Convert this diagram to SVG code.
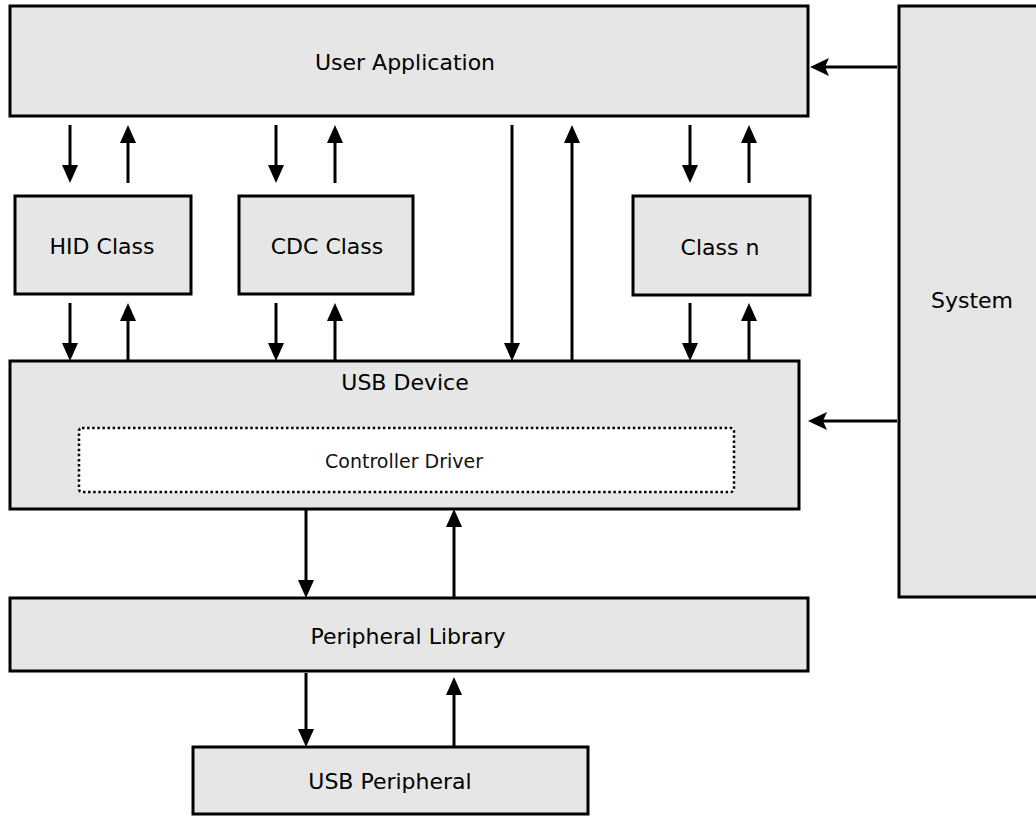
<svg xmlns="http://www.w3.org/2000/svg" width="1036" height="817" viewBox="0 0 1036 817">
<style>
.box{fill:#e6e6e6;stroke:#000;stroke-width:3}
.lbl{font-family:"DejaVu Sans",Verdana,sans-serif;font-size:22px;fill:#000;text-anchor:middle}
.sub{font-family:"DejaVu Sans",Verdana,sans-serif;font-size:19px;fill:#111;text-anchor:middle}
.dot{fill:#fff;stroke:#000;stroke-width:2.5;stroke-dasharray:2.5 2.6}
.ln{fill:none;stroke:#000;stroke-width:3}
.v{marker-end:url(#ah)}
.h{marker-end:url(#ahn)}
</style>
<defs>
<marker id="ah" markerUnits="userSpaceOnUse" markerWidth="20" markerHeight="20" refX="4" refY="8" orient="auto">
<path d="M0,0 L18,8 L0,16 z" fill="#000"/>
</marker>
<marker id="ahn" markerUnits="userSpaceOnUse" markerWidth="22" markerHeight="22" refX="5" refY="9" orient="auto">
<path d="M0,0 L19,9 L0,18 L4,9 z" fill="#000"/>
</marker>
</defs>
<rect width="1036" height="817" fill="#fff"/>
<g id="system"><rect class="box" x="899" y="6" width="160" height="591"/><text class="lbl" x="972" y="308">System</text></g>
<g id="user-application"><rect class="box" x="10" y="6" width="798" height="110"/><text class="lbl" x="405" y="70">User Application</text></g>
<g id="hid-class"><rect class="box" x="15" y="196" width="176" height="98"/><text class="lbl" x="102" y="254">HID Class</text></g>
<g id="cdc-class"><rect class="box" x="239" y="196" width="174" height="98"/><text class="lbl" x="327" y="254">CDC Class</text></g>
<g id="class-n"><rect class="box" x="633" y="196" width="177" height="99"/><text class="lbl" x="720" y="255">Class n</text></g>
<g id="usb-device"><rect class="box" x="10" y="361" width="789" height="148"/><text class="lbl" x="405" y="390">USB Device</text>
<g id="controller-driver"><rect class="dot" x="79" y="428" width="655" height="64" rx="3"/><text class="sub" x="404" y="468">Controller Driver</text></g></g>
<g id="peripheral-library"><rect class="box" x="10" y="598" width="798" height="73"/><text class="lbl" x="408" y="644">Peripheral Library</text></g>
<g id="usb-peripheral"><rect class="box" x="193" y="747" width="395" height="67"/><text class="lbl" x="390" y="789">USB Peripheral</text></g>
<g id="connectors">
<path class="ln v" d="M70,125 V169"/>
<path class="ln v" d="M128,183 V139"/>
<path class="ln v" d="M70,303 V347"/>
<path class="ln v" d="M128,361 V317"/>
<path class="ln v" d="M276,125 V169"/>
<path class="ln v" d="M335,183 V139"/>
<path class="ln v" d="M276,303 V347"/>
<path class="ln v" d="M335,361 V317"/>
<path class="ln v" d="M512,125 V347"/>
<path class="ln v" d="M572,361 V139"/>
<path class="ln v" d="M690,125 V169"/>
<path class="ln v" d="M749,183 V139"/>
<path class="ln v" d="M690,303 V347"/>
<path class="ln v" d="M749,361 V317"/>
<path class="ln v" d="M306,509 V584"/>
<path class="ln v" d="M454,598 V523"/>
<path class="ln v" d="M306,673 V733"/>
<path class="ln v" d="M454,747 V691"/>
<path class="ln h" d="M897,67 H824"/>
<path class="ln h" d="M897,421 H822"/>
</g>
</svg>
